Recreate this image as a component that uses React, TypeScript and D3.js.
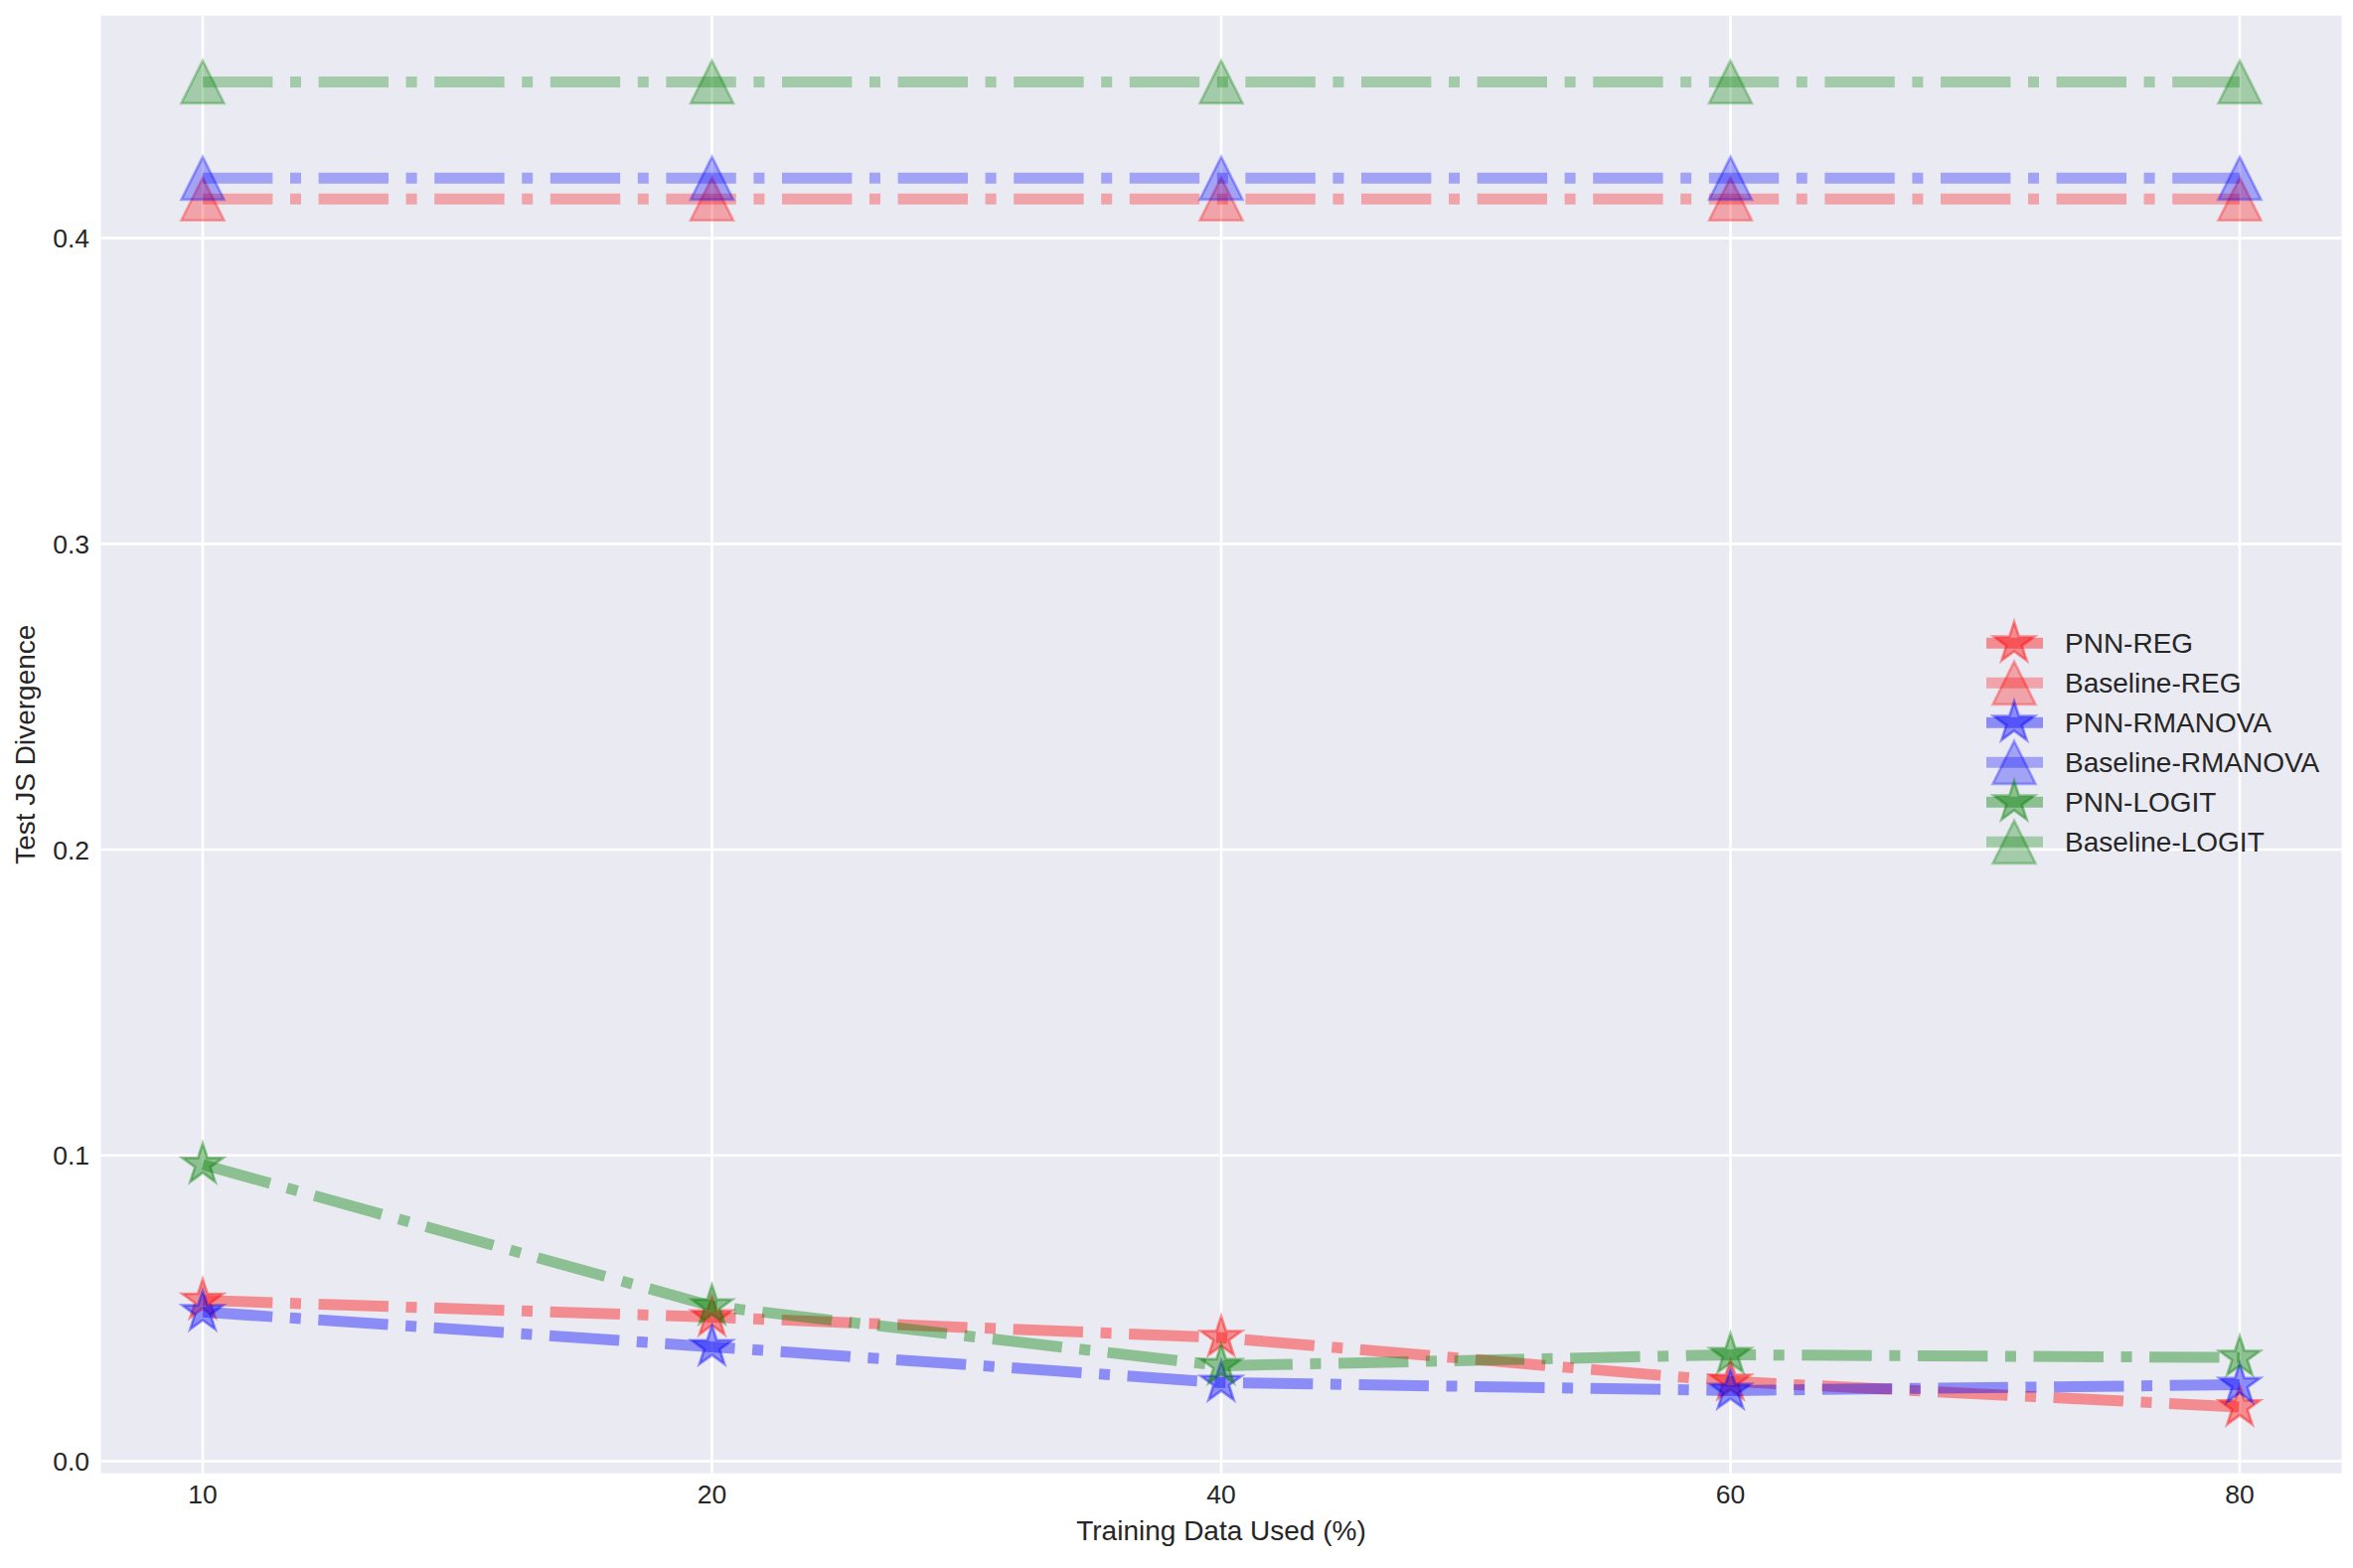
import React from "react";
import * as d3 from "d3";

const categories = ["10", "20", "40", "60", "80"];
const pnnReg = [0.0526, 0.0471, 0.0404, 0.0261, 0.0177];
const baselineReg = [0.4128, 0.4128, 0.4128, 0.4128, 0.4128];
const pnnRmanova = [0.0488, 0.0374, 0.0257, 0.0231, 0.025];
const baselineRmanova = [0.4196, 0.4196, 0.4196, 0.4196, 0.4196];
const pnnLogit = [0.097, 0.0507, 0.0312, 0.0348, 0.0339];
const baselineLogit = [0.4511, 0.4511, 0.4511, 0.4511, 0.4511];
const yTicks = [0.0, 0.1, 0.2, 0.3, 0.4];

type Series = { name: string; values: number[]; color: string; alpha: number; marker: "star" | "tri" };
const series: Series[] = [
  { name: "PNN-REG", values: pnnReg, color: "#ff0000", alpha: 0.4, marker: "star" },
  { name: "Baseline-REG", values: baselineReg, color: "#ff0000", alpha: 0.3, marker: "tri" },
  { name: "PNN-RMANOVA", values: pnnRmanova, color: "#0000ff", alpha: 0.4, marker: "star" },
  { name: "Baseline-RMANOVA", values: baselineRmanova, color: "#0000ff", alpha: 0.3, marker: "tri" },
  { name: "PNN-LOGIT", values: pnnLogit, color: "#008000", alpha: 0.4, marker: "star" },
  { name: "Baseline-LOGIT", values: baselineLogit, color: "#008000", alpha: 0.3, marker: "tri" },
];

const W = 2368, H = 1578;
const left = 101.5, right = 2356.5, top = 15.7, bottom = 1482.7;
const LW = 11;
const DASH = [6.4 * LW, 1.6 * LW, 1 * LW, 1.6 * LW].join(",");
const MS = 43;
const TEXT = "#262626";
const FONT = "'Liberation Sans', Arial, sans-serif";

function starPath(cx: number, cy: number, size: number) {
  const R = size / 2, r = R * 0.381966;
  const pts: [number, number][] = [];
  for (let i = 0; i < 10; i++) {
    const a = Math.PI / 2 + (i * Math.PI) / 5;
    const rr = i % 2 === 0 ? R : r;
    pts.push([cx + rr * Math.cos(a), cy - rr * Math.sin(a)]);
  }
  return "M" + pts.map((p) => p.join(",")).join("L") + "Z";
}
function triPath(cx: number, cy: number, size: number) {
  const h = size / 2;
  return `M${cx},${cy - h}L${cx - h},${cy + h}L${cx + h},${cy + h}Z`;
}
function markerPath(m: string, cx: number, cy: number) {
  return m === "star" ? starPath(cx, cy, MS) : triPath(cx, cy, MS);
}

export default function App() {
  const n = categories.length;
  const x = d3.scaleLinear().domain([-0.2, n - 1 + 0.2]).range([left, right]);
  const all = series.flatMap((s) => s.values);
  const mn = d3.min(all)!, mx = d3.max(all)!;
  const pad = (mx - mn) * 0.05;
  const y = d3.scaleLinear().domain([mn - pad, mx + pad]).range([bottom, top]);
  const line = d3.line<number>().x((_, i) => x(i)).y((v) => y(v));

  const legX0 = 1999, legX1 = 2056, legMx = 2027, legTx = 2078, legY0 = 647.3, legDy = 40;

  return (
    <svg width={W} height={H} style={{ position: "absolute", left: 0, top: 0, display: "block", background: "#fff" }}>
      <rect x={left} y={top} width={right - left} height={bottom - top} fill="#EAEAF2" />
      {yTicks.map((t) => (
        <line key={"gy" + t} x1={left} x2={right} y1={y(t)} y2={y(t)} stroke="#fff" strokeWidth={2.6} />
      ))}
      {categories.map((c, i) => (
        <line key={"gx" + c} x1={x(i)} x2={x(i)} y1={top} y2={bottom} stroke="#fff" strokeWidth={2.6} />
      ))}
      {yTicks.map((t) => (
        <text key={"ty" + t} x={90} y={y(t) + 9.5} textAnchor="end" fontFamily={FONT} fontSize={26.5} fill={TEXT}>
          {t.toFixed(1)}
        </text>
      ))}
      {categories.map((c, i) => (
        <text key={"tx" + c} x={x(i)} y={1513} textAnchor="middle" fontFamily={FONT} fontSize={26.5} fill={TEXT}>
          {c}
        </text>
      ))}
      <text x={(left + right) / 2} y={1550} textAnchor="middle" fontFamily={FONT} fontSize={28} fill={TEXT}>
        Training Data Used (%)
      </text>
      <text
        transform={`translate(35,${(top + bottom) / 2}) rotate(-90)`}
        textAnchor="middle"
        fontFamily={FONT}
        fontSize={28}
        fill={TEXT}
      >
        Test JS Divergence
      </text>
      {series.map((s) => (
        <g key={s.name}>
          <path
            d={line(s.values)!}
            fill="none"
            stroke={s.color}
            strokeOpacity={s.alpha}
            strokeWidth={LW}
            strokeDasharray={DASH}
            strokeLinecap="butt"
            strokeLinejoin="round"
          />
          {s.values.map((v, i) => (
            <path
              key={i}
              d={markerPath(s.marker, x(i), y(v))}
              fill={s.color}
              fillOpacity={s.alpha}
              stroke={s.color}
              strokeOpacity={s.alpha}
              strokeWidth={2.67}
              strokeLinejoin="miter"
            />
          ))}
        </g>
      ))}
      {series.map((s, k) => {
        const ly = legY0 + k * legDy;
        return (
          <g key={"leg" + s.name}>
            <line x1={legX0} x2={legX1} y1={ly} y2={ly} stroke={s.color} strokeOpacity={s.alpha} strokeWidth={LW} strokeDasharray={DASH} />
            <path
              d={markerPath(s.marker, legMx, ly)}
              fill={s.color}
              fillOpacity={s.alpha}
              stroke={s.color}
              strokeOpacity={s.alpha}
              strokeWidth={2.67}
            />
            <text x={legTx} y={ly + 10} fontFamily={FONT} fontSize={28} fill={TEXT}>
              {s.name}
            </text>
          </g>
        );
      })}
    </svg>
  );
}
